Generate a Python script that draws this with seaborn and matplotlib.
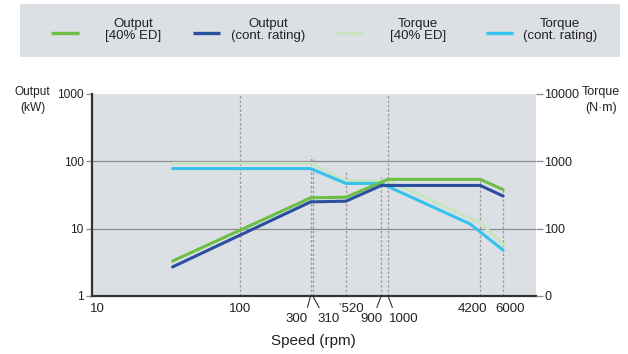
import numpy as np
import pandas as pd
import seaborn as sns
import matplotlib
matplotlib.use("Agg")
import matplotlib.pyplot as plt
import matplotlib.transforms as mtrans
from matplotlib.lines import Line2D
from matplotlib.patches import Rectangle

# ---------------- data ----------------
speed_out40 = [35, 300, 520, 1000, 4200, 6000]
output_40 = [3.3, 28.7, 29.3, 54, 54, 38]

speed_outcont = [35, 300, 520, 900, 4200, 6000]
output_cont = [2.7, 25, 25.6, 43.8, 43.8, 30.5]

speed_tq40 = [35, 300, 520, 1000, 4200, 6000]
torque_40 = [935, 935, 516, 516, 123, 58]

speed_tqcont = [35, 300, 520, 900, 3600, 6000]
torque_cont = [780, 780, 470, 470, 117, 48]

ref_speeds = [100, 300, 310, 520, 900, 1000, 4200, 6000]
ref_tops = [1000, 119, 110, 68.5, 57.7, 1000, 54, 38]

legend_labels = ["Output\n[40% ED]", "Output\n(cont. rating)",
                 "Torque\n[40% ED]", "Torque\n(cont. rating)"]

left_ticks = [1, 10, 100, 1000]
left_ticklabels = ["1", "10", "100", "1000"]
right_ticks = [10, 100, 1000, 10000]
right_ticklabels = ["0", "100", "1000", "10000"]

x_ticks = [10, 100, 520, 4200, 6000]
x_ticklabels = ["10", "100", "\u02c8520", "4200", "6000"]

# ---------------- style ----------------
sns.set_style("white")
plt.rcParams["font.family"] = ["Liberation Sans", "DejaVu Sans"]
FS = 9.5
FSY = 8.6
TXT = "#222222"

C_GREEN = "#6cbf45"
C_BLUE = "#2a4f9e"
C_LGREEN = "#c6e5c0"
C_CYAN = "#35c2ee"
BG = "#dcdfe3"
GRID = "#8c8c8c"

W, H = 628, 354
fig = plt.figure(figsize=(W / 100, H / 100), dpi=100)


def fx(px):
    return px / W


def fy(py):
    return 1 - py / H


ax = fig.add_axes([fx(92), fy(296), fx(536) - fx(92), fy(94) - fy(296)])
ax.set_facecolor(BG)
ax.set_xscale("log")
ax.set_yscale("log")
ax.set_xlim(10, 10000)
ax.set_ylim(1, 1000)

ax2 = ax.twinx()
ax2.set_yscale("log")
ax2.set_ylim(10, 10000)

# gridlines
for g in [10, 100]:
    ax.axhline(g, color=GRID, lw=0.9, zorder=1)

# reference dotted verticals
for s, t in zip(ref_speeds, ref_tops):
    ax.vlines(s, 1, t, colors="#9a9a9a", linestyles=(0, (2, 1.6)), lw=0.9, zorder=1.5)

df_o40 = pd.DataFrame({"speed": speed_out40, "val": output_40})
df_oc = pd.DataFrame({"speed": speed_outcont, "val": output_cont})
df_t40 = pd.DataFrame({"speed": speed_tq40, "val": torque_40})
df_tc = pd.DataFrame({"speed": speed_tqcont, "val": torque_cont})

LW = 2.2
sns.lineplot(data=df_t40, x="speed", y="val", ax=ax2, color=C_LGREEN, lw=LW, sort=False, zorder=2)
sns.lineplot(data=df_tc, x="speed", y="val", ax=ax2, color=C_CYAN, lw=LW, sort=False, zorder=3)
sns.lineplot(data=df_o40, x="speed", y="val", ax=ax2, color=C_GREEN, lw=LW, sort=False, zorder=4,
             transform=ax.transData)
sns.lineplot(data=df_oc, x="speed", y="val", ax=ax2, color=C_BLUE, lw=LW, sort=False, zorder=5,
             transform=ax.transData)

ax2.set_xlim(10, 10000)
ax2.set_ylim(10, 10000)

# spines
for a in (ax, ax2):
    for side in ("top", "right", "left", "bottom"):
        a.spines[side].set_visible(False)
for side in ("left", "bottom"):
    ax.spines[side].set_visible(True)
    ax.spines[side].set_color("#333333")
    ax.spines[side].set_linewidth(1.6)

ax.set_xlabel("")
ax.set_ylabel("")
ax2.set_xlabel("")
ax2.set_ylabel("")

# y ticks
ax.set_yticks(left_ticks)
ax.set_yticklabels(left_ticklabels, fontsize=FSY, color=TXT)
ax.yaxis.set_minor_locator(matplotlib.ticker.NullLocator())
ax.tick_params(axis="y", which="major", length=4, width=0.9, color=GRID, pad=2, left=True)

ax2.set_yticks(right_ticks)
ax2.set_yticklabels(right_ticklabels, fontsize=9, color=TXT)
ax2.yaxis.set_minor_locator(matplotlib.ticker.NullLocator())
ax2.tick_params(axis="y", which="major", length=5, width=0.9, color=GRID, pad=1, right=True)

# x ticks
ax.set_xticks(x_ticks)
ax.set_xticklabels(x_ticklabels, fontsize=FS, color=TXT)
ax.xaxis.set_minor_locator(matplotlib.ticker.NullLocator())
ax.tick_params(axis="x", which="major", length=0, pad=5)
ax2.tick_params(axis="x", which="both", length=0, labelbottom=False)
# small horizontal nudges of some tick labels (in points)
nudges = {"10": 4, "\u02c8520": 3, "4200": -5.5, "6000": 5}
for lab in ax.get_xticklabels():
    dx = nudges.get(lab.get_text(), 0)
    if dx:
        lab.set_transform(lab.get_transform() + mtrans.ScaledTranslation(dx / 72, 0, fig.dpi_scale_trans))

# leader-line labels
leaders = [(300, "300", (-10.5, -12), (0.95, 1.0)),
           (310, "310", (11.5, -12), (0.2, 1.0)),
           (900, "900", (-7, -12), (0.65, 1.0)),
           (1000, "1000", (11, -12), (0.2, 1.0))]
for s, lab, off, rp in leaders:
    ax.annotate(lab, xy=(s, 1), xycoords="data", xytext=off, textcoords="offset points",
                ha="center", va="top", fontsize=FS, color=TXT, annotation_clip=False,
                arrowprops=dict(arrowstyle="-", color="#333333", lw=0.8, shrinkA=1.5, shrinkB=1,
                                relpos=rp))

# axis titles
fig.text(fx(313), fy(341), "Speed (rpm)", ha="center", va="center", fontsize=11, color=TXT)
fig.text(fx(50), fy(92), "Output", ha="right", va="center", fontsize=FSY, color=TXT)
fig.text(fx(33), fy(108), "(kW)", ha="center", va="center", fontsize=FSY, color=TXT)
fig.text(fx(582), fy(92), "Torque", ha="left", va="center", fontsize=9, color=TXT)
fig.text(fx(601), fy(108), "(N\u00b7m)", ha="center", va="center", fontsize=9, color=TXT)

# legend box
fig.patches.append(Rectangle((fx(20), fy(57)), fx(620) - fx(20), fy(4) - fy(57),
                             transform=fig.transFigure, facecolor=BG, edgecolor="none", zorder=0))
handle_x = [(51, 79), (193, 220), (336, 363), (486, 513)]
label_x = [133, 268, 418, 560]
colors = [C_GREEN, C_BLUE, C_LGREEN, C_CYAN]
for (x0, x1), lx, c, lab in zip(handle_x, label_x, colors, legend_labels):
    fig.add_artist(Line2D([fx(x0), fx(x1)], [fy(33), fy(33)], transform=fig.transFigure,
                          color=c, lw=2.4, solid_capstyle="butt"))
    fig.text(fx(lx), fy(30), lab, ha="center", va="center", fontsize=FS, color=TXT,
             multialignment="center", linespacing=0.95)

fig.savefig("out.png", dpi=100, facecolor="white")
